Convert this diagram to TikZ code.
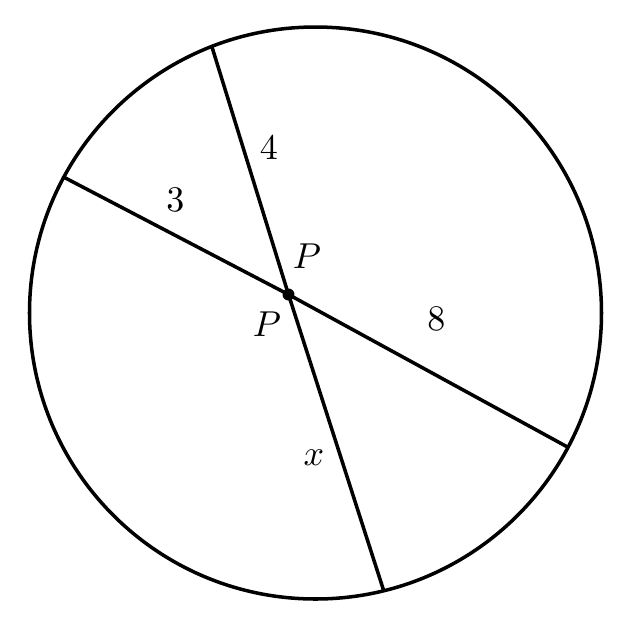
\documentclass[tikz,border=0pt]{standalone}
\usepackage{tikz}
\usetikzlibrary{positioning}
\tikzset{
    chord/.style={
        line width=2pt,
        line cap=round
    },
    rim/.style={
        line width=2pt
    },
    lbl/.style={
        scale=2.05,
        inner sep=0pt
    }
}

\begin{document}
\begin{tikzpicture}[
    x=0.02cm, y=-0.02cm,
    dot/.style={circle, fill=black, inner sep=0pt, minimum size=0.24cm},
]
\useasboundingbox (0,0) rectangle (627,627);

% ====== CIRCLE ======
\coordinate (centre) at (315.5,313);
\draw[rim] (centre) circle[radius=286];

% ====== CHORDS ======
\coordinate (top_end) at (212,47);
\coordinate (bottom_end) at (383.5,590);
\coordinate (left_end) at (63.5,177);
\coordinate (right_end) at (567.5,447);
\node[dot] (P) at (288.5,294.5) {};

\draw[chord] (top_end) -- (P.center) -- (bottom_end);
\draw[chord] (left_end) -- (P.center) -- (right_end);

% ====== LABELS ======
\node[lbl] (lab_four) at (269,148) {$4$};
\node[lbl] (lab_three) at (175.5,200) {$3$};
\node[lbl] (lab_eight) at (436.5,319) {$8$};
\node[lbl] (lab_x) at (314,458) {$x$};
\node[lbl] (lab_P_up) at (307,256) {$P$};
\node[lbl] (lab_P_down) at (267,324) {$P$};

\end{tikzpicture}
\end{document}
